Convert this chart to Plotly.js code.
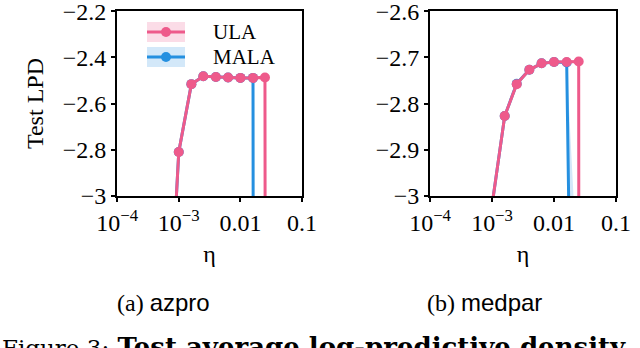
<!DOCTYPE html>
<html>
<head>
<meta charset="utf-8">
<script src="https://cdn.plot.ly/plotly-3.0.1.min.js"></script>
<style>
  html, body { margin: 0; padding: 0; background: #fff; }
  #chart { width: 640px; height: 348px; }
</style>
</head>
<body>
<div id="chart"></div>
<script>
// step sizes (eta) on the log grid
var eta = [0.0004, 0.00063, 0.001, 0.0016, 0.0025, 0.004, 0.0063, 0.01, 0.016, 0.025, 0.04];

// (a) azpro  -- test LPD, diverged runs drop far below the axis
var azproULA  = [-6, -3.8, -2.81, -2.516, -2.482, -2.485, -2.487, -2.489, -2.489, -2.487, -50];
var azproMALA = [-6, -3.8, -2.81, -2.516, -2.482, -2.485, -2.487, -2.489, -2.489, -50, -50];

// (b) medpar
var medparULA  = [-6, -4.5, -3.02, -2.827, -2.758, -2.727, -2.713, -2.710, -2.710, -2.709, -50];
var medparMALA = [-6, -4.5, -3.02, -2.827, -2.757, -2.727, -2.713, -2.710, -2.711, -4.5, -50];
var medparMALAhi = [-6, -4.5, -3.02, -2.827, -2.757, -2.727, -2.713, -2.710, -2.711, -3.22, -50];
var medparMALAlo = [-6, -4.5, -3.02, -2.827, -2.757, -2.727, -2.713, -2.710, -2.711, -6, -50];

var seriesNames = ['ULA', 'MALA'];
var xTickVals = [0.0001, 0.001, 0.01, 0.1];
var xTickText = ['10<sup>\u22124</sup>', '10<sup>\u22123</sup>', '0.01', '0.1'];
var yTickValsA = [-3, -2.8, -2.6, -2.4, -2.2];
var yTickTextA = ['\u22123', '\u22122.8', '\u22122.6', '\u22122.4', '\u22122.2'];
var yTickValsB = [-3, -2.9, -2.8, -2.7, -2.6];
var yTickTextB = ['\u22123', '\u22122.9', '\u22122.8', '\u22122.7', '\u22122.6'];
var panelCaptions = ['(a) <span style="font-family:\'Liberation Sans\'">azpro</span>',
                     '(b) <span style="font-family:\'Liberation Sans\'">medpar</span>'];
var figCaption = '<span style="font-size:23px">Figure 3:</span> <b>Test average log-predictive density</b>';

var pink = '#ee5a8b', blue = '#2590e0';
var pinkLight = '#fbdce7', blueLight = '#d3e8f9';
var serif = 'Liberation Serif, Times New Roman, serif';

function series(x, y, name, color, xa, ya) {
  return {
    x: x, y: y, name: name, type: 'scatter', mode: 'lines+markers',
    xaxis: xa, yaxis: ya, showlegend: false,
    line: {color: color, width: 3},
    marker: {color: color, size: 10}
  };
}

var data = [
  series(eta, azproMALA, seriesNames[1], blue, 'x', 'y'),
  series(eta, azproULA, seriesNames[0], pink, 'x', 'y'),
  {x: eta, y: medparMALAhi, xaxis: 'x2', yaxis: 'y2', type: 'scatter', mode: 'lines',
   line: {width: 0}, showlegend: false, hoverinfo: 'skip'},
  {x: eta, y: medparMALAlo, xaxis: 'x2', yaxis: 'y2', type: 'scatter', mode: 'lines',
   line: {width: 0}, fill: 'tonexty', fillcolor: blueLight, showlegend: false, hoverinfo: 'skip'},
  series(eta, medparMALA, seriesNames[1], blue, 'x2', 'y2'),
  series(eta, medparULA, seriesNames[0], pink, 'x2', 'y2')
];

function xAxis(domain, anchor) {
  return {
    type: 'log', range: [-4, -1], domain: domain, anchor: anchor,
    tickvals: xTickVals, ticktext: xTickText, ticklabeloverflow: 'allow',
    showline: true, mirror: true, linecolor: '#000', linewidth: 2,
    ticks: 'outside', ticklen: 4, tickwidth: 2, tickcolor: '#000',
    showgrid: false, zeroline: false,
    tickfont: {family: serif, size: 24, color: '#000'},
    title: {text: '\u03b7', font: {family: serif, size: 24, color: '#000'}, standoff: 10}
  };
}
function yAxis(range, vals, text, anchor, title) {
  return {
    range: range, domain: [0.437, 0.968], anchor: anchor,
    tickvals: vals, ticktext: text, ticklabeloverflow: 'allow',
    showline: true, mirror: true, linecolor: '#000', linewidth: 2,
    ticks: 'outside', ticklen: 4, tickwidth: 2, tickcolor: '#000',
    showgrid: false, zeroline: false,
    tickfont: {family: serif, size: 24, color: '#000'},
    title: {text: title, font: {family: serif, size: 24, color: '#000'}, standoff: 12}
  };
}

// hand-made legend in the first panel (band swatch, line, dot, label)
var legendColors = [[pink, pinkLight], [blue, blueLight]];
var legendRows = [32, 57];            // px from top
var shapes = [], annotations = [];
legendRows.forEach(function (py, i) {
  var yc = 1 - py / 348, h = 10 / 348;
  shapes.push({type: 'rect', xref: 'paper', yref: 'paper', x0: 147 / 640, x1: 185 / 640,
               y0: yc - h, y1: yc + h, fillcolor: legendColors[i][1], line: {width: 0}, layer: 'above'});
  shapes.push({type: 'line', xref: 'paper', yref: 'paper', x0: 147 / 640, x1: 185 / 640,
               y0: yc, y1: yc, line: {color: legendColors[i][0], width: 3}, layer: 'above'});
  shapes.push({type: 'circle', xref: 'paper', yref: 'paper', xsizemode: 'pixel', ysizemode: 'pixel',
               xanchor: 166 / 640, yanchor: yc, x0: -5, x1: 5, y0: -5, y1: 5,
               fillcolor: legendColors[i][0], line: {width: 0}, layer: 'above'});
  annotations.push({text: seriesNames[i], xref: 'paper', yref: 'paper', x: 211 / 640, y: yc,
                    xanchor: 'left', yanchor: 'middle', showarrow: false,
                    font: {family: serif, size: 21, color: '#000'}});
});

annotations.push(
  {text: panelCaptions[0], xref: 'paper', yref: 'paper', x: 0.2547, y: 0.132,
   xanchor: 'center', yanchor: 'middle',
   showarrow: false, font: {family: serif, size: 24, color: '#000'}},
  {text: panelCaptions[1], xref: 'paper', yref: 'paper', x: 0.757, y: 0.132,
   xanchor: 'center', yanchor: 'middle',
   showarrow: false, font: {family: serif, size: 24, color: '#000'}},
  {text: figCaption, xref: 'paper', yref: 'paper',
   x: 0, y: 0.0517, xanchor: 'left', yanchor: 'top', showarrow: false,
   font: {family: 'DejaVu Serif, serif', size: 26, color: '#000'}}
);

var layout = {
  width: 640, height: 348,
  margin: {l: 0, r: 0, t: 0, b: 0},
  paper_bgcolor: '#fff', plot_bgcolor: '#fff',
  showlegend: false,
  xaxis: xAxis([0.183, 0.472], 'y'),
  yaxis: yAxis([-3, -2.2], yTickValsA, yTickTextA, 'x', 'Test LPD'),
  xaxis2: xAxis([0.672, 0.9625], 'y2'),
  yaxis2: yAxis([-3, -2.6], yTickValsB, yTickTextB, 'x2', ''),
  shapes: shapes,
  annotations: annotations
};

Plotly.newPlot('chart', data, layout, {staticPlot: true});
</script>
</body>
</html>
